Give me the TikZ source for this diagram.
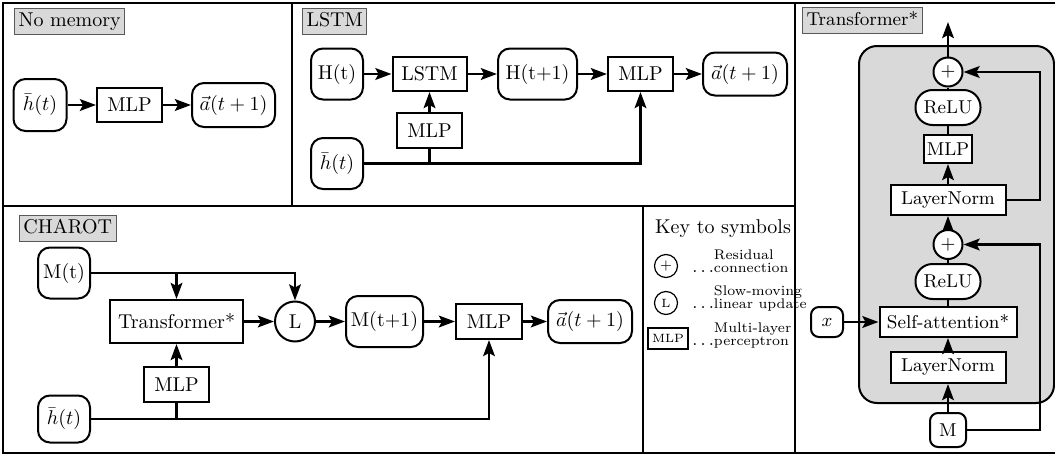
\documentclass[tikz,border=0pt]{standalone}
\usepackage{fix-cm}
\usepackage{fontspec}
\usetikzlibrary{arrows.meta,calc}
\tikzset{
  every node/.style={font=\fontsize{10}{12}\selectfont},
  panelline/.style={line width=0.6pt},
  lbl/.style={draw=gray!70!black, fill=gray!30, line width=0.5pt, inner sep=2pt, anchor=north west, text height=7pt, text depth=2pt},
  sq/.style={draw, line width=1pt, fill=white, inner sep=0pt},
  rnd/.style={sq, rounded corners=6pt},
  circ/.style={draw, circle, line width=1pt, fill=white, inner sep=0pt},
  arr/.style={line width=1.4pt, -{Stealth[length=8pt,width=5.8pt,inset=1.5pt]}},
  ln/.style={line width=1.4pt},
  keytext/.style={anchor=west, inner sep=0pt, font=\fontsize{7}{6.5}\selectfont},
}
\newcommand{\keydots}{{\fontsize{9}{9}\selectfont$\ldots$}}
\begin{document}
\begin{tikzpicture}[x=0.5pt,y=-0.5pt]
\useasboundingbox (0,0) rectangle (1055,455);
% frame
\draw[panelline] (1058,3) -- (3,3) -- (3,453) -- (1058,453);
\draw[panelline] (292,3) -- (292,206);
\draw[panelline] (3,206) -- (795,206);
\draw[panelline] (643,206) -- (643,453);
\draw[panelline] (795,3) -- (795,453);

% ---------- No memory
\node[lbl] (nm-lbl) at (14,8) {No memory};
\node[rnd, minimum width=26.5pt, minimum height=26pt] (nm-h) at (40,105) {$\bar h(t)$};
\node[sq, minimum width=32.5pt, minimum height=17pt] (nm-mlp) at (129.5,105) {MLP};
\node[rnd, minimum width=41.5pt, minimum height=22pt] (nm-a) at (233.5,105) {$\vec a(t+1)$};
\draw[arr] (nm-h) -- (nm-mlp);
\draw[arr] (nm-mlp) -- (nm-a);

% ---------- LSTM
\node[lbl] (ls-lbl) at (302,8) {LSTM};
\node[rnd, minimum width=26pt, minimum height=25.5pt] (ls-H) at (337,74) {H(t)};
\node[sq, minimum width=37pt, minimum height=17pt] (ls-lstm) at (429.5,74) {LSTM};
\node[rnd, minimum width=39.5pt, minimum height=25.5pt] (ls-H1) at (537.5,74) {H(t+1)};
\node[sq, minimum width=32.5pt, minimum height=17pt] (ls-mlp) at (640.5,74) {MLP};
\node[rnd, minimum width=42pt, minimum height=21.5pt] (ls-a) at (745,74) {$\vec a(t+1)$};
\node[sq, minimum width=32.5pt, minimum height=17.5pt] (ls-mlpl) at (429.5,130.5) {MLP};
\node[rnd, minimum width=26pt, minimum height=25.5pt] (ls-h) at (337,163.5) {$\bar h(t)$};
\draw[arr] (ls-H) -- (ls-lstm);
\draw[arr] (ls-lstm) -- (ls-H1);
\draw[arr] (ls-H1) -- (ls-mlp);
\draw[arr] (ls-mlp) -- (ls-a);
\draw[arr] (ls-mlpl) -- (ls-lstm);
\draw[arr] (ls-h.east) -| (ls-mlp.south);
\draw[ln] (ls-mlpl.south) -- (ls-mlpl.south |- ls-h.east);

% ---------- CHAROT
\node[lbl] (ch-lbl) at (19,215) {CHAROT};
\node[rnd, minimum width=26pt, minimum height=25.5pt] (ch-m) at (64,273) {M(t)};
\node[sq, minimum width=66.5pt, minimum height=21.5pt] (ch-tr) at (176.5,321.5) {Transformer*};
\node[circ, minimum size=20pt] (ch-L) at (295,321.5) {L};
\node[rnd, minimum width=38.5pt, minimum height=25.5pt] (ch-m1) at (384.5,321.5) {M(t+1)};
\node[sq, minimum width=33pt, minimum height=17.5pt] (ch-mlp) at (489,321.5) {MLP};
\node[rnd, minimum width=42pt, minimum height=21.5pt] (ch-a) at (590,321.5) {$\vec a(t+1)$};
\node[sq, minimum width=32.5pt, minimum height=17.5pt] (ch-mlpl) at (176.5,384.5) {MLP};
\node[rnd, minimum width=26pt, minimum height=23.5pt] (ch-h) at (64,419) {$\bar h(t)$};
\draw[arr] (ch-m.east) -| (ch-L.north);
\draw[arr] (ch-m.east -| ch-tr.north) -- (ch-tr.north);
\draw[arr] (ch-tr) -- (ch-L);
\draw[arr] (ch-L) -- (ch-m1);
\draw[arr] (ch-m1) -- (ch-mlp);
\draw[arr] (ch-mlp) -- (ch-a);
\draw[arr] (ch-mlpl) -- (ch-tr);
\draw[arr] (ch-h.east) -| (ch-mlp.south);
\draw[ln] (ch-mlpl.south) -- (ch-mlpl.south |- ch-h.east);

% ---------- Key
\node (k-title) at (723,229) {Key to symbols};
\node[draw, circle, line width=0.6pt, inner sep=0pt, minimum size=11.5pt, font=\fontsize{7}{8}\selectfont] (k-plus) at (666,266) {$+$};
\node[keytext] (k-plus-t) at (692,263) {\begin{tabular}{@{}l@{}l@{}} & Residual\\ \keydots & connection\end{tabular}};
\node[draw, circle, line width=0.6pt, inner sep=0pt, minimum size=11.5pt, font=\fontsize{6}{7}\selectfont] (k-L) at (666,303) {L};
\node[keytext] (k-L-t) at (692,299) {\begin{tabular}{@{}l@{}l@{}} & Slow-moving\\ \keydots & linear update\end{tabular}};
\node[draw, line width=0.6pt, inner sep=0pt, minimum width=20pt, minimum height=10.5pt, font=\fontsize{6}{7}\selectfont] (k-mlp) at (668,338.5) {MLP};
\node[keytext] (k-mlp-t) at (692,336) {\begin{tabular}{@{}l@{}l@{}} & Multi-layer\\ \keydots & perceptron\end{tabular}};

% ---------- Transformer*
\begin{scope}[every node/.append style={font=\fontsize{9.3}{11}\selectfont}]
\node[lbl] (tp-lbl) at (802,7) {Transformer*};
\draw[line width=1pt, fill=gray!30, rounded corners=9pt] (859,46) rectangle (1054,403);
\coordinate (tp-top) at (948,22);
\coordinate (tp-rx) at (1040,0);
\node[circ, minimum size=14.5pt] (tp-plus1) at (948,72) {$+$};
\node[sq, rounded corners=8.5pt, minimum width=32.5pt, minimum height=17.5pt] (tp-relu1) at (948,107.5) {ReLU};
\node[sq, minimum width=24pt, minimum height=14pt] (tp-mlp) at (948,149) {MLP};
\node[sq, minimum width=57.5pt, minimum height=15pt] (tp-ln1) at (948,200) {LayerNorm};
\node[circ, minimum size=14.5pt] (tp-plus2) at (948,244.5) {$+$};
\node[sq, rounded corners=8.5pt, minimum width=32.5pt, minimum height=17.5pt] (tp-relu2) at (948,281.5) {ReLU};
\node[sq, minimum width=68.5pt, minimum height=15pt] (tp-sa) at (948,322) {Self-attention*};
\node[rnd, rounded corners=4pt, minimum width=16pt, minimum height=15pt] (tp-x) at (827,322) {$x$};
\node[sq, minimum width=57.5pt, minimum height=15.5pt] (tp-ln2) at (948,367.5) {LayerNorm};
\node[rnd, rounded corners=4pt, minimum width=18pt, minimum height=17pt] (tp-M) at (948,430) {M};
\draw[arr] (tp-plus1) -- (tp-top);
\draw[ln] (tp-relu1) -- (tp-plus1);
\draw[ln] (tp-mlp) -- (tp-relu1);
\draw[arr] (tp-ln1) -- (tp-mlp);
\draw[arr] (tp-ln1.east) -- (tp-ln1.east -| tp-rx) |- (tp-plus1.east);
\draw[arr] (tp-plus2) -- (tp-ln1);
\draw[ln] (tp-relu2) -- (tp-plus2);
\draw[ln] (tp-sa) -- (tp-relu2);
\draw[arr] (tp-ln2) -- (tp-sa);
\draw[arr] (tp-M) -- (tp-ln2);
\draw[arr] (tp-x) -- (tp-sa);
\draw[arr] (tp-M.east) -- (tp-M.east -| tp-rx) |- (tp-plus2.east);
\end{scope}
\end{tikzpicture}
\end{document}
